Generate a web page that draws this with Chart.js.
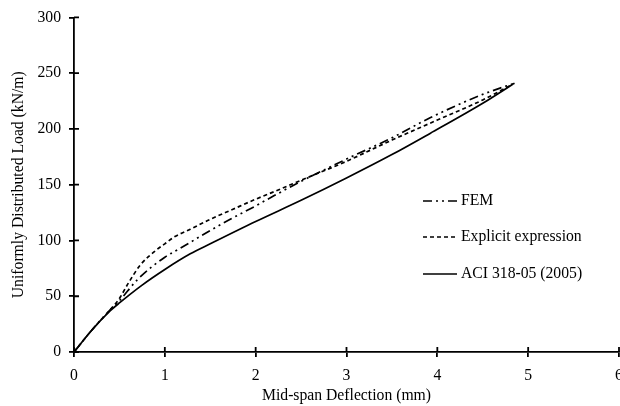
<!DOCTYPE html>
<html>
<head>
<meta charset="utf-8">
<script src="https://cdn.jsdelivr.net/npm/chart.js@4.4.1/dist/chart.umd.min.js"></script>
<style>
  html, body { margin: 0; padding: 0; background: #fff; overflow: hidden; }
  #wrap { width: 640px; height: 406px; }
</style>
</head>
<body>
<div id="wrap"><canvas id="deflChart" width="640" height="406"></canvas></div>
<script>
// series values (deflection mm, load kN/m)
var femX = [0, 0.2, 0.4, 0.5, 0.7, 1.0, 1.17, 1.5, 1.72, 2.0, 2.2, 2.5, 3.0, 3.5, 3.92, 4.5, 4.85];
var femY = [0, 20, 38, 46, 65, 85, 93, 109, 119, 131, 140, 153, 173, 192, 210, 231, 241];

var explicitX = [0, 0.2, 0.4, 0.5, 0.6, 0.73, 0.9, 1.0, 1.1, 1.28, 1.5, 1.75, 2.0, 2.21, 2.5, 3.0, 3.5, 4.0, 4.5, 4.85];
var explicitY = [0, 20, 38, 48, 62, 78, 91, 97, 103, 110, 119, 128, 137, 144, 154, 171, 190, 208, 226, 241];

var aciX = [0, 0.2, 0.4, 0.5, 0.75, 1.0, 1.28, 1.5, 2.0, 2.5, 3.0, 3.5, 3.92, 4.5, 4.83];
var aciY = [0, 20, 37, 44, 60, 74, 88, 97, 117, 136, 156, 177, 196, 223, 240];

var seriesNames = ['FEM', 'Explicit expression', 'ACI 318-05 (2005)'];
var xTicks = [0, 1, 2, 3, 4, 5, 6];
var yTicks = [0, 50, 100, 150, 200, 250, 300];

function pts(xs, ys) {
    var out = [];
    for (var i = 0; i < xs.length; i++) out.push({ x: xs[i], y: ys[i] });
    return out;
}

var serif = 'Liberation Serif, Times New Roman, serif';
var fsize = 15.7;

// tick marks that cross the axis line (inner half)
var innerTicks = {
    id: 'innerTicks',
    afterDatasetsDraw: function (chart) {
        var ctx = chart.ctx, xs = chart.scales.x, ys = chart.scales.y;
        ctx.save();
        ctx.strokeStyle = '#000';
        ctx.lineWidth = 1.8;
        ctx.beginPath();
        xTicks.forEach(function (v) {
            var p = xs.getPixelForValue(v);
            ctx.moveTo(p, ys.bottom);
            ctx.lineTo(p, ys.bottom - 5);
        });
        yTicks.forEach(function (v) {
            var p = ys.getPixelForValue(v);
            ctx.moveTo(xs.left, p);
            ctx.lineTo(xs.left + 5, p);
        });
        ctx.stroke();
        ctx.restore();
    }
};

// legend drawn inside the plot area
var innerLegend = {
    id: 'innerLegend',
    afterDraw: function (chart) {
        var ctx = chart.ctx;
        var x0 = 423, x1 = 457, tx = 461;
        var rows = [201, 237, 274];
        ctx.save();
        chart.data.datasets.forEach(function (ds, i) {
            var y = rows[i];
            ctx.strokeStyle = '#000';
            ctx.lineWidth = ds.borderWidth;
            ctx.setLineDash(ds.borderDash || []);
            ctx.beginPath();
            ctx.moveTo(x0, y);
            ctx.lineTo(x1, y);
            ctx.stroke();
            ctx.setLineDash([]);
            ctx.fillStyle = '#000';
            ctx.font = fsize + 'px ' + serif;
            ctx.textBaseline = 'middle';
            ctx.textAlign = 'left';
            ctx.fillText(ds.label, tx, y);
        });
        ctx.restore();
    }
};

var ctx = document.getElementById('deflChart').getContext('2d');

var deflChart = new Chart(ctx, {
    type: 'line',
    data: {
        datasets: [{
            label: seriesNames[0],
            data: pts(femX, femY),
            borderColor: '#000',
            borderWidth: 1.7,
            borderDash: [9, 4, 2, 4, 2, 4],
            pointRadius: 0,
            cubicInterpolationMode: 'monotone'
        }, {
            label: seriesNames[1],
            data: pts(explicitX, explicitY),
            borderColor: '#000',
            borderWidth: 1.7,
            borderDash: [4, 3],
            pointRadius: 0,
            cubicInterpolationMode: 'monotone'
        }, {
            label: seriesNames[2],
            data: pts(aciX, aciY),
            borderColor: '#000',
            borderWidth: 1.7,
            pointRadius: 0,
            cubicInterpolationMode: 'monotone'
        }]
    },
    options: {
        responsive: false,
        animation: false,
        layout: { padding: { left: 0, right: 21, top: 17, bottom: 0 } },
        plugins: {
            legend: { display: false },
            tooltip: { enabled: false }
        },
        scales: {
            x: {
                type: 'linear',
                min: 0,
                max: 6,
                afterBuildTicks: function (s) { s.ticks = xTicks.map(function (v) { return { value: v }; }); },
                afterFit: function (s) { s.height = 54; },
                border: { display: true, color: '#000', width: 1.8 },
                grid: { display: true, drawOnChartArea: false, drawTicks: true, tickLength: 5, color: '#000', lineWidth: 1.8 },
                ticks: { color: '#000', font: { family: serif, size: fsize }, padding: 9, maxRotation: 0 },
                title: { display: true, text: 'Mid-span Deflection (mm)', color: '#000', font: { family: serif, size: fsize }, padding: { top: 2, bottom: 1 } }
            },
            y: {
                type: 'linear',
                min: 0,
                max: 300,
                afterBuildTicks: function (s) { s.ticks = yTicks.map(function (v) { return { value: v }; }); },
                afterFit: function (s) { s.width = 74; },
                border: { display: true, color: '#000', width: 1.8 },
                grid: { display: true, drawOnChartArea: false, drawTicks: true, tickLength: 5, color: '#000', lineWidth: 1.8 },
                ticks: { color: '#000', font: { family: serif, size: fsize }, padding: 8 },
                title: { display: true, text: 'Uniformly Distributed Load (kN/m)', color: '#000', font: { family: serif, size: fsize }, padding: { top: 9, bottom: 2 } }
            }
        }
    },
    plugins: [innerTicks, innerLegend]
});
</script>
</body>
</html>
